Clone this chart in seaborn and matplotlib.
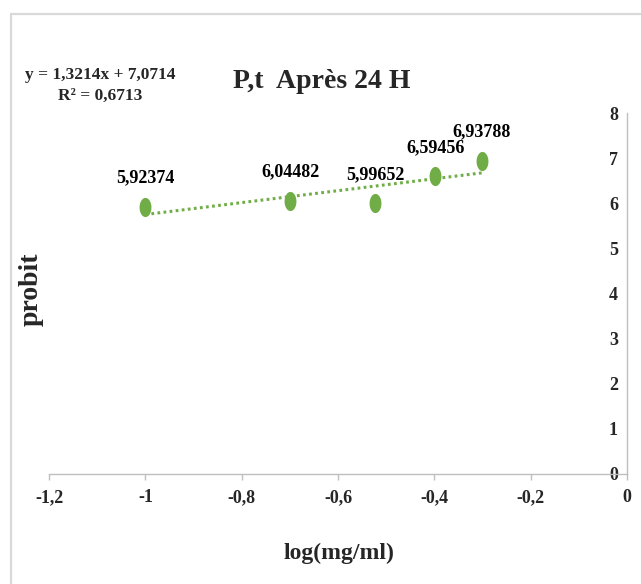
import matplotlib
matplotlib.use("Agg")
import matplotlib.pyplot as plt
from matplotlib.path import Path
from matplotlib.lines import Line2D
import numpy as np
import pandas as pd
import seaborn as sns

# Log concentration (mg/ml) and probit values after 24 h
log_conc = [-1.0, -0.69897, -0.52288, -0.39794, -0.30103]
probit = [5.92374, 6.04482, 5.99652, 6.59456, 6.93788]
point_labels = ["5,92374", "6,04482", "5,99652", "6,59456", "6,93788"]

# Linear trend fitted to the points
slope = 1.3214
intercept = 7.0714
r_squared = 0.6713

x_ticks = [-1.2, -1.0, -0.8, -0.6, -0.4, -0.2, 0.0]
x_tick_labels = ["-1,2", "-1", "-0,8", "-0,6", "-0,4", "-0,2", "0"]
y_ticks = [0, 1, 2, 3, 4, 5, 6, 7, 8]
y_tick_labels = ["0", "1", "2", "3", "4", "5", "6", "7", "8"]

sns.set_theme(style="white")
plt.rcParams["font.family"] = ["Liberation Serif", "DejaVu Serif"]
plt.rcParams["font.weight"] = "bold"

W, H = 641, 584
fig = plt.figure(figsize=(W / 100, H / 100), dpi=100)
ax = fig.add_axes([49 / W, 1 - 474 / H, (627 - 49) / W, (474 - 113) / H])

green = "#70ad47"
grey = "#bfbfbf"

df = pd.DataFrame({"x": log_conc, "y": probit})

# Trend line over the range of the data
xs = np.array([min(log_conc), max(log_conc)])
trend = pd.DataFrame({"x": xs, "y": slope * xs + intercept})
sns.lineplot(data=trend, x="x", y="y", ax=ax, color=green, lw=2.2,
             linestyle=(0, (0.9, 1.1)), zorder=2)

# Slightly tall oval markers
t = np.linspace(0, 2 * np.pi, 60)
oval = Path(np.column_stack([0.62 * np.cos(t), np.sin(t)]))
sns.scatterplot(data=df, x="x", y="y", ax=ax, marker=oval, s=190,
                color=green, edgecolor=green, linewidth=0, zorder=3)

for xv, yv, lab in zip(log_conc, probit, point_labels):
    ax.annotate(lab, (xv, yv), xytext=(0, 21), textcoords="offset points",
                ha="center", va="center", fontsize=13, fontweight="bold",
                color="black")

ax.set_xlim(-1.2, 0)
ax.set_ylim(0, 8)
ax.set_xticks(x_ticks)
ax.set_xticklabels(x_tick_labels)
ax.set_yticks(y_ticks)
ax.set_yticklabels(y_tick_labels)

for side in ["left", "top"]:
    ax.spines[side].set_visible(False)
for side in ["bottom", "right"]:
    ax.spines[side].set_color(grey)
    ax.spines[side].set_linewidth(1.0)

ax.tick_params(axis="x", direction="out", length=4, width=1, color=grey,
               pad=7, labelsize=13, bottom=True)
# Value labels sit just inside the vertical axis drawn at x = 0
ax.tick_params(axis="y", left=False, right=False, labelleft=False,
               labelright=True, length=0, pad=-13, labelsize=13)
for lab in ax.get_xticklabels() + ax.get_yticklabels():
    lab.set_fontweight("bold")

ax.set_xlabel("")
ax.set_ylabel("")
fig.text(339 / W, 1 - 553 / H, "log(mg/ml)", ha="center", va="center",
         fontsize=17, fontweight="bold")
fig.text(31 / W, 1 - 289 / H, "probit", ha="center", va="center",
         rotation=90, fontsize=20, fontweight="bold")
fig.text(322 / W, 1 - 82 / H, "P,t  Après 24 H", ha="center", va="center",
         fontsize=20, fontweight="bold")
fig.text(100 / W, 1 - 85 / H,
         f"y = {slope:.4f}x + {intercept:.4f}".replace(".", ",")
         + "\n" + f"R² = {r_squared:.4f}".replace(".", ","),
         ha="center", va="center", multialignment="center",
         fontsize=12.5, fontweight="bold", linespacing=1.4)

# Chart frame
fig.add_artist(Line2D([11 / W, 11 / W], [0, 1 - 14 / H], color="#d9d9d9",
                      lw=1.6, transform=fig.transFigure))
fig.add_artist(Line2D([11 / W, 1], [1 - 14 / H, 1 - 14 / H], color="#d9d9d9",
                      lw=1.6, transform=fig.transFigure))

fig.savefig("out.png", dpi=100, facecolor="white")
